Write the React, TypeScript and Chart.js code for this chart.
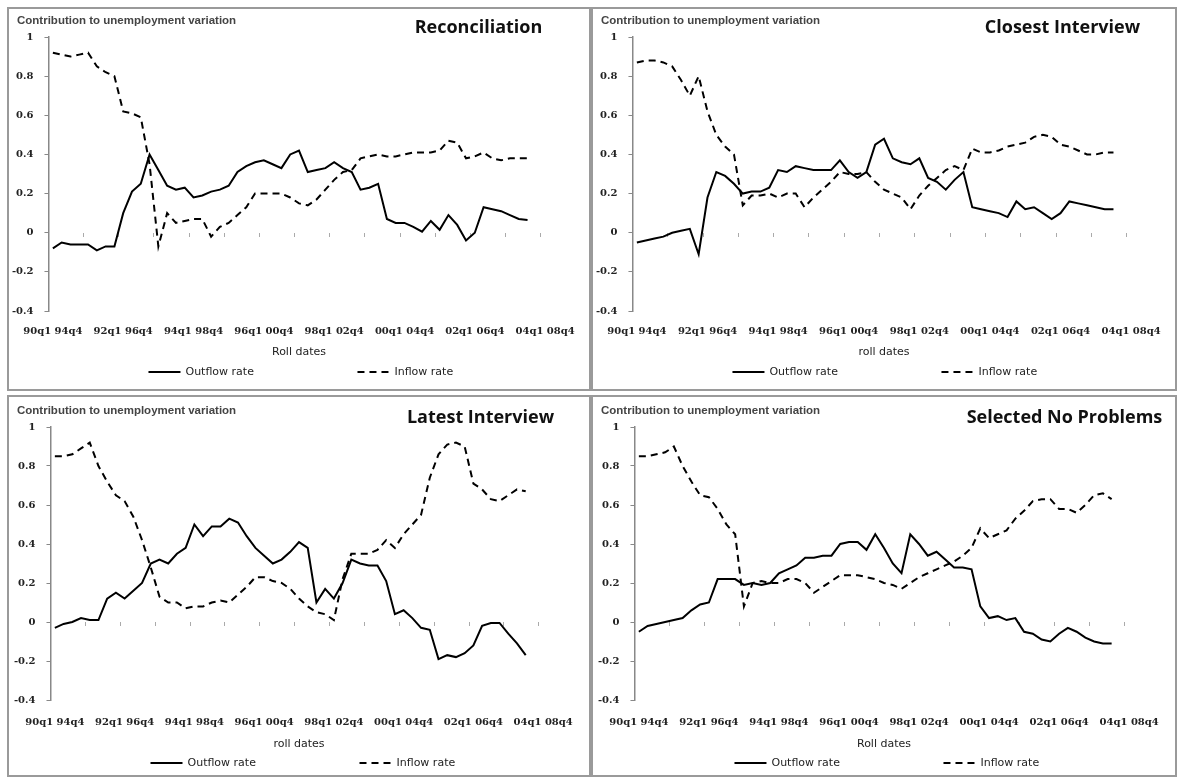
import React, { useEffect, useRef } from "react";
import { Chart, registerables } from "chart.js";

Chart.register(...registerables);

// Rolling 5-year windows (start quarter, end quarter)
const rollDates = [
  "90q1 94q4", "90q2 95q1", "90q3 95q2", "90q4 95q3",
  "91q1 95q4", "91q2 96q1", "91q3 96q2", "91q4 96q3",
  "92q1 96q4", "92q2 97q1", "92q3 97q2", "92q4 97q3",
  "93q1 97q4", "93q2 98q1", "93q3 98q2", "93q4 98q3",
  "94q1 98q4", "94q2 99q1", "94q3 99q2", "94q4 99q3",
  "95q1 99q4", "95q2 00q1", "95q3 00q2", "95q4 00q3",
  "96q1 00q4", "96q2 01q1", "96q3 01q2", "96q4 01q3",
  "97q1 01q4", "97q2 02q1", "97q3 02q2", "97q4 02q3",
  "98q1 02q4", "98q2 03q1", "98q3 03q2", "98q4 03q3",
  "99q1 03q4", "99q2 04q1", "99q3 04q2", "99q4 04q3",
  "00q1 04q4", "00q2 05q1", "00q3 05q2", "00q4 05q3",
  "01q1 05q4", "01q2 06q1", "01q3 06q2", "01q4 06q3",
  "02q1 06q4", "02q2 07q1", "02q3 07q2", "02q4 07q3",
  "03q1 07q4", "03q2 08q1", "03q3 08q2", "03q4 08q3",
  "04q1 08q4",
];

const yMin = -0.4;
const yMax = 1;
const yStep = 0.2;

// ---- Reconciliation ----
const reconOutflow = [
  -0.08, -0.05, -0.06, -0.06, -0.06, -0.09, -0.07, -0.07, 0.10, 0.21,
  0.25, 0.40, 0.32, 0.24, 0.22, 0.23, 0.18, 0.19, 0.21, 0.22,
  0.24, 0.31, 0.34, 0.36, 0.37, 0.35, 0.33, 0.40, 0.42, 0.31,
  0.32, 0.33, 0.36, 0.33, 0.31, 0.22, 0.23, 0.25, 0.07, 0.05,
  0.05, 0.03, 0.005, 0.06, 0.015, 0.09, 0.04, -0.04, 0.0, 0.13,
  0.12, 0.11, 0.09, 0.07, 0.065,
];
const reconInflow = [
  0.92, 0.91, 0.90, 0.91, 0.92, 0.85, 0.82, 0.80, 0.62, 0.61,
  0.59, 0.35, -0.07, 0.10, 0.05, 0.06, 0.07, 0.07, -0.02, 0.03,
  0.05, 0.09, 0.13, 0.20, 0.20, 0.20, 0.20, 0.18, 0.15, 0.14,
  0.17, 0.22, 0.27, 0.31, 0.32, 0.38, 0.39, 0.40, 0.39, 0.39,
  0.40, 0.41, 0.41, 0.41, 0.42, 0.47, 0.46, 0.38, 0.39, 0.41,
  0.38, 0.37, 0.38, 0.38, 0.38,
];

// ---- Closest Interview ----
const closestOutflow = [
  -0.05, -0.04, -0.03, -0.02, 0.0, 0.01, 0.02, -0.11, 0.18, 0.31,
  0.29, 0.25, 0.20, 0.21, 0.21, 0.23, 0.32, 0.31, 0.34, 0.33,
  0.32, 0.32, 0.32, 0.37, 0.31, 0.28, 0.31, 0.45, 0.48, 0.38,
  0.36, 0.35, 0.38, 0.28, 0.26, 0.22, 0.27, 0.31, 0.13, 0.12,
  0.11, 0.10, 0.08, 0.16, 0.12, 0.13, 0.10, 0.07, 0.10, 0.16,
  0.15, 0.14, 0.13, 0.12, 0.12,
];
const closestInflow = [
  0.87, 0.88, 0.88, 0.87, 0.85, 0.78, 0.70, 0.80, 0.62, 0.50,
  0.44, 0.40, 0.14, 0.19, 0.19, 0.20, 0.18, 0.20, 0.20, 0.13,
  0.18, 0.22, 0.26, 0.31, 0.30, 0.30, 0.31, 0.26, 0.22, 0.20,
  0.18, 0.12, 0.19, 0.24, 0.28, 0.32, 0.34, 0.32, 0.43, 0.41,
  0.41, 0.42, 0.44, 0.45, 0.46, 0.49, 0.50, 0.49, 0.45, 0.44,
  0.42, 0.40, 0.40, 0.41, 0.41,
];

// ---- Latest Interview ----
const latestOutflow = [
  -0.03, -0.01, 0.0, 0.02, 0.01, 0.01, 0.12, 0.15, 0.12, 0.16,
  0.20, 0.30, 0.32, 0.30, 0.35, 0.38, 0.50, 0.44, 0.49, 0.49,
  0.53, 0.51, 0.44, 0.38, 0.34, 0.30, 0.32, 0.36, 0.41, 0.38,
  0.10, 0.17, 0.12, 0.20, 0.32, 0.30, 0.29, 0.29, 0.21, 0.04,
  0.06, 0.02, -0.03, -0.04, -0.19, -0.17, -0.18, -0.16, -0.12, -0.02,
  -0.005, -0.005, -0.06, -0.11, -0.17,
];
const latestInflow = [
  0.85, 0.85, 0.86, 0.89, 0.92, 0.80, 0.72, 0.65, 0.62, 0.54,
  0.42, 0.28, 0.13, 0.10, 0.10, 0.07, 0.08, 0.08, 0.10, 0.11,
  0.10, 0.14, 0.18, 0.23, 0.23, 0.21, 0.20, 0.17, 0.12, 0.08,
  0.05, 0.04, 0.01, 0.22, 0.35, 0.35, 0.35, 0.37, 0.42, 0.38,
  0.45, 0.50, 0.55, 0.74, 0.86, 0.91, 0.92, 0.90, 0.71, 0.68,
  0.63, 0.62, 0.65, 0.68, 0.67,
];

// ---- Selected No Problems ----
const selectedOutflow = [
  -0.05, -0.02, -0.01, 0.0, 0.01, 0.02, 0.06, 0.09, 0.10, 0.22,
  0.22, 0.22, 0.19, 0.20, 0.19, 0.20, 0.25, 0.27, 0.29, 0.33,
  0.33, 0.34, 0.34, 0.40, 0.41, 0.41, 0.37, 0.45, 0.38, 0.30,
  0.25, 0.45, 0.40, 0.34, 0.36, 0.32, 0.28, 0.28, 0.27, 0.08,
  0.02, 0.03, 0.01, 0.02, -0.05, -0.06, -0.09, -0.10, -0.06, -0.03,
  -0.05, -0.08, -0.10, -0.11, -0.11,
];
const selectedInflow = [
  0.85, 0.85, 0.86, 0.87, 0.90, 0.80, 0.72, 0.65, 0.64, 0.58,
  0.50, 0.45, 0.08, 0.20, 0.21, 0.20, 0.20, 0.22, 0.22, 0.20,
  0.15, 0.18, 0.21, 0.24, 0.24, 0.24, 0.23, 0.22, 0.20, 0.19,
  0.17, 0.20, 0.23, 0.25, 0.27, 0.29, 0.31, 0.34, 0.38, 0.48,
  0.43, 0.45, 0.47, 0.53, 0.57, 0.62, 0.63, 0.63, 0.58, 0.58,
  0.56, 0.60, 0.65, 0.66, 0.63,
];

const seriesNames = ["Outflow rate", "Inflow rate"];
const leftTitle = "Contribution to unemployment variation";

type PanelSpec = {
  title: string;
  axisTitle: string;
  outflow: number[];
  inflow: number[];
  left: number;
  top: number;
  width: number;
  height: number;
  plotTop: number;
  plotBottom: number;
  labelY: number;
  axisTitleY: number;
  legendY: number;
};

const panels: PanelSpec[] = [
  { title: "Reconciliation", axisTitle: "Roll dates", outflow: reconOutflow, inflow: reconInflow,
    left: 7, top: 7, width: 584, height: 384, plotTop: 28, plotBottom: 302, labelY: 322, axisTitleY: 342, legendY: 363 },
  { title: "Closest Interview", axisTitle: "roll dates", outflow: closestOutflow, inflow: closestInflow,
    left: 591, top: 7, width: 586, height: 384, plotTop: 28, plotBottom: 302, labelY: 322, axisTitleY: 342, legendY: 363 },
  { title: "Latest Interview", axisTitle: "roll dates", outflow: latestOutflow, inflow: latestInflow,
    left: 7, top: 395, width: 584, height: 382, plotTop: 30, plotBottom: 303, labelY: 325, axisTitleY: 346, legendY: 366 },
  { title: "Selected No Problems", axisTitle: "Roll dates", outflow: selectedOutflow, inflow: selectedInflow,
    left: 591, top: 395, width: 586, height: 382, plotTop: 30, plotBottom: 303, labelY: 325, axisTitleY: 346, legendY: 366 },
];

const BORDER = 2;

const annotPlugin = {
  id: "annot",
  afterDraw(chart: any, _args: any, opts: any) {
    const { ctx, chartArea } = chart;
    ctx.save();
    ctx.textBaseline = "middle";
    // small left title
    ctx.fillStyle = "#444";
    ctx.font = 'bold 11.5px "Liberation Sans"';
    ctx.textAlign = "left";
    ctx.fillText(opts.leftTitle, 8, opts.titleY - 6);
    // bold panel title
    ctx.fillStyle = "#111";
    ctx.font = 'bold 18px "Open Sans"';
    ctx.textAlign = "center";
    ctx.fillText(opts.title, chartArea.left + 430, opts.titleY + 1);
    // legend
    const xs = [chartArea.left + 100, chartArea.left + 309];
    chart.data.datasets.forEach((ds: any, i: number) => {
      const x = xs[i];
      ctx.strokeStyle = ds.borderColor;
      ctx.lineWidth = ds.borderWidth;
      ctx.setLineDash(ds.borderDash || []);
      ctx.beginPath();
      ctx.moveTo(x, opts.legendY);
      ctx.lineTo(x + 32, opts.legendY);
      ctx.stroke();
      ctx.setLineDash([]);
      ctx.fillStyle = "#222";
      ctx.font = '11px "DejaVu Sans"';
      ctx.textAlign = "left";
      ctx.fillText(ds.label, x + 37, opts.legendY);
    });
    ctx.restore();
  },
};

function Panel({ spec }: { spec: PanelSpec }) {
  const ref = useRef<HTMLCanvasElement>(null);
  const W = spec.width - 2 * BORDER;
  const H = spec.height - 2 * BORDER;

  useEffect(() => {
    if (!ref.current) return;
    const tickFont = { family: '"DejaVu Serif"', size: 10, weight: "bold" as const };
    const chart = new Chart(ref.current, {
      type: "line",
      data: {
        labels: rollDates,
        datasets: [
          { label: seriesNames[0], data: spec.outflow, borderColor: "#000", borderWidth: 2, pointRadius: 0, tension: 0, fill: false },
          { label: seriesNames[1], data: spec.inflow, borderColor: "#000", borderWidth: 2, borderDash: [7, 5], pointRadius: 0, tension: 0, fill: false },
        ],
      },
      options: {
        responsive: false,
        animation: false,
        devicePixelRatio: 1,
        layout: { padding: { top: spec.plotTop, left: 0, right: 31, bottom: 0 } },
        plugins: {
          legend: { display: false },
          tooltip: { enabled: false },
          title: { display: false },
          annot: { leftTitle, title: spec.title, titleY: spec.plotTop - 10, legendY: spec.legendY },
        } as any,
        scales: {
          x: {
            type: "category",
            offset: true,
            grid: { display: false, drawTicks: false },
            border: { display: false },
            ticks: {
              autoSkip: false,
              maxRotation: 0,
              minRotation: 0,
              padding: spec.labelY - spec.plotBottom - 6,
              color: "#222",
              font: tickFont,
              callback: function (this: any, v: any, i: number) {
                return i % 8 === 0 ? this.getLabelForValue(v) : null;
              },
            },
            title: {
              display: true,
              text: spec.axisTitle,
              color: "#222",
              font: { family: '"DejaVu Sans"', size: 11 },
              padding: { top: 0, bottom: H - spec.axisTitleY - 8 },
            },
            afterFit: (s: any) => { s.height = H - spec.plotBottom; },
          },
          x2: {
            type: "category",
            labels: rollDates,
            offset: true,
            position: { y: 0 } as any,
            ticks: { display: false },
            grid: {
              drawOnChartArea: false,
              drawTicks: true,
              tickLength: 4,
              offset: true,
              lineWidth: 1,
              color: (c: any) => (c.index % 4 === 0 ? "#aaa" : "rgba(0,0,0,0)"),
            },
            border: { display: false },
          },
          y: {
            min: yMin,
            max: yMax,
            ticks: {
              stepSize: yStep,
              color: "#222",
              font: tickFont,
              padding: 11,
              callback: (v: any) => {
                const n = Math.round(Number(v) * 10) / 10;
                return n === 0 ? "0" : String(n);
              },
            },
            grid: { drawOnChartArea: false, drawTicks: true, tickLength: 4, color: "#888" },
            border: { display: true, color: "#888", width: 1.5 },
            afterFit: (s: any) => { s.width = 39; },
          },
        },
      } as any,
      plugins: [annotPlugin],
    });
    return () => chart.destroy();
  }, []);

  return (
    <div
      style={{
        position: "absolute",
        left: spec.left,
        top: spec.top,
        width: spec.width,
        height: spec.height,
        border: `${BORDER}px solid #9a9a9a`,
        boxSizing: "border-box",
        background: "#fff",
      }}
    >
      <canvas ref={ref} width={W} height={H} style={{ position: "absolute", left: 0, top: 0, width: W, height: H }} />
    </div>
  );
}

export default function App() {
  return (
    <div style={{ position: "absolute", left: 0, top: 0, width: 1177, height: 778, background: "#fff", overflow: "hidden" }}>
      {panels.map((p) => (
        <Panel key={p.title} spec={p} />
      ))}
    </div>
  );
}
